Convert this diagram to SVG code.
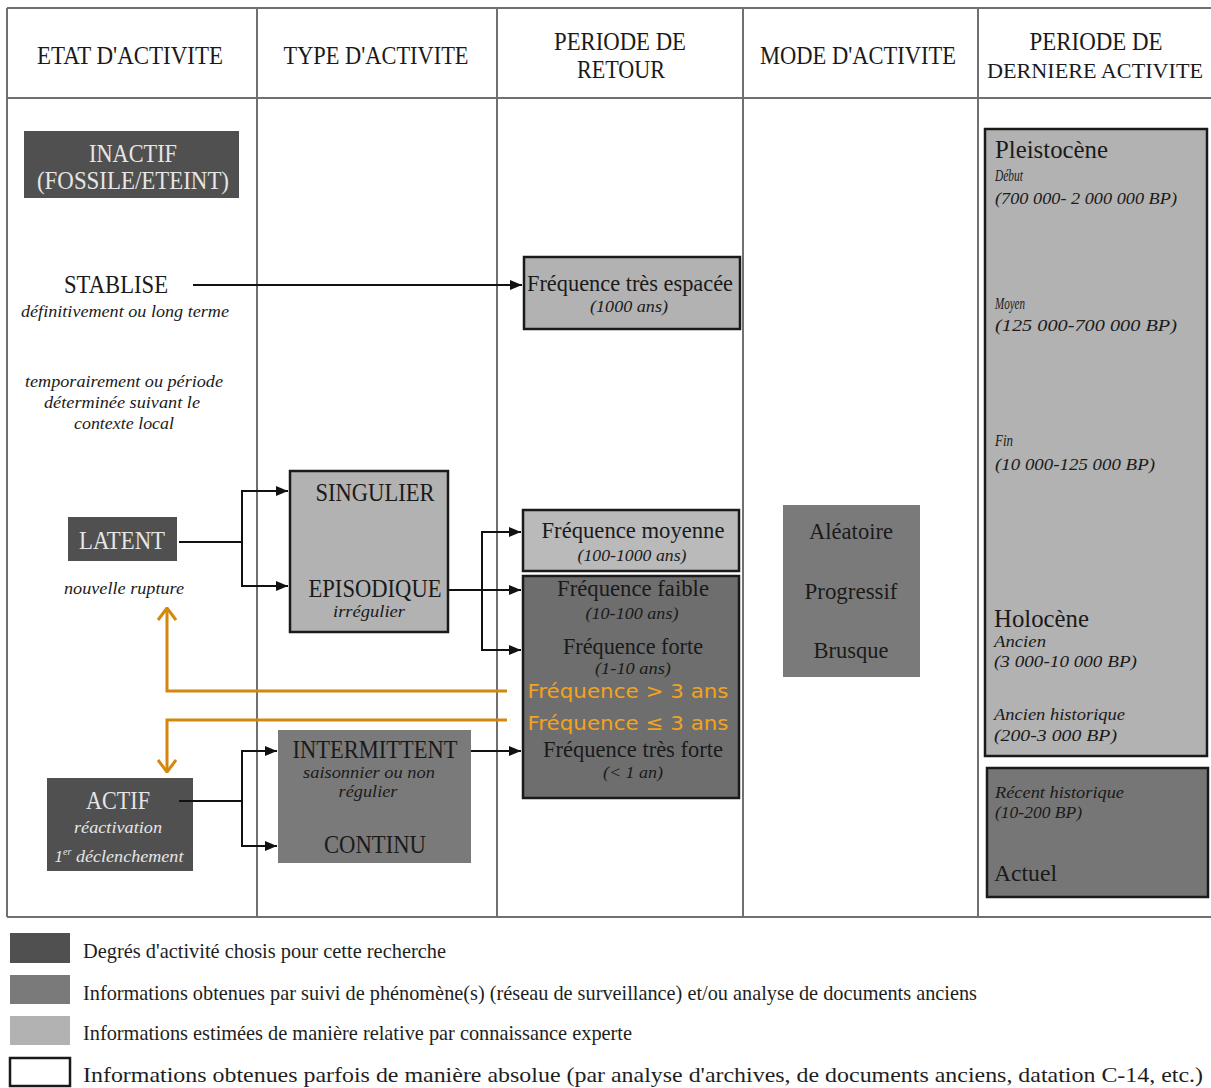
<svg xmlns="http://www.w3.org/2000/svg" width="1211" height="1088" viewBox="0 0 1211 1088">
<style>
.grid{stroke:#707070;stroke-width:2;fill:none}
.t{font-family:"Liberation Serif",serif;fill:#1a1a1a;text-anchor:middle}
.l{text-anchor:start}
.hd{font-size:25px}
.big{font-size:26px}
.md{font-size:24px}
.it{font-style:italic;font-size:17px}
.w{fill:#e6e6e6}
.dark{fill:#505050}
.mid{fill:#7a7a7a}
.light{fill:#b2b2b2}
.lighter{fill:#bababa}
.bd{stroke:#1a1a1a;stroke-width:2.5}
.con{stroke:#111;stroke-width:2;fill:none}
.or{stroke:#d4870d;stroke-width:3;fill:none}
.ot{font-family:"DejaVu Sans","Open Sans",sans-serif;font-size:20px;fill:#f4a31c;text-anchor:middle}
.lg{font-family:"Liberation Serif",serif;font-size:21px;fill:#1e1e1e}
</style>
<defs>
<marker id="arr" viewBox="0 0 12 10" refX="12" refY="5" markerWidth="12" markerHeight="10" markerUnits="userSpaceOnUse" orient="auto">
<path d="M0,0 L12,5 L0,10 z" fill="#111"/>
</marker>
<marker id="chev" viewBox="0 0 14 20" refX="13" refY="10" markerWidth="14" markerHeight="20" markerUnits="userSpaceOnUse" orient="auto">
<path d="M1,1 L13,10 L1,19" fill="none" stroke="#d4870d" stroke-width="3"/>
</marker>
</defs>

<g id="table">
<path class="grid" d="M7,8 H1211 M7,98 H1211 M7,917 H1211 M7,8 V917 M257,8 V917 M497,8 V917 M743,8 V917 M978,8 V917"/>
<text class="t hd" x="130" y="64" textLength="186" lengthAdjust="spacingAndGlyphs">ETAT D'ACTIVITE</text>
<text class="t hd" x="376" y="64" textLength="185" lengthAdjust="spacingAndGlyphs">TYPE D'ACTIVITE</text>
<text class="t hd" x="620" y="50" textLength="132" lengthAdjust="spacingAndGlyphs">PERIODE DE</text>
<text class="t hd" x="621" y="78" textLength="88" lengthAdjust="spacingAndGlyphs">RETOUR</text>
<text class="t hd" x="858" y="64" textLength="196" lengthAdjust="spacingAndGlyphs">MODE D'ACTIVITE</text>
<text class="t hd" x="1096" y="50" textLength="133" lengthAdjust="spacingAndGlyphs">PERIODE DE</text>
<text class="t" x="1095" y="78" font-size="21" textLength="216" lengthAdjust="spacingAndGlyphs">DERNIERE ACTIVITE</text>
</g>

<g id="inactif">
<rect class="dark" x="24" y="131" width="215" height="67"/>
<text class="t big w" x="133" y="162" textLength="88" lengthAdjust="spacingAndGlyphs">INACTIF</text>
<text class="t big w" x="133" y="189" textLength="192" lengthAdjust="spacingAndGlyphs">(FOSSILE/ETEINT)</text>
</g>

<g id="stablise">
<text class="t big" x="116" y="293" textLength="104" lengthAdjust="spacingAndGlyphs">STABLISE</text>
<text class="t it" x="125" y="317" textLength="208" lengthAdjust="spacingAndGlyphs">définitivement ou long terme</text>
<text class="t it" x="124" y="387" textLength="198" lengthAdjust="spacingAndGlyphs">temporairement ou période</text>
<text class="t it" x="122" y="408" textLength="156" lengthAdjust="spacingAndGlyphs">déterminée suivant le</text>
<text class="t it" x="124" y="429" textLength="100" lengthAdjust="spacingAndGlyphs">contexte local</text>
</g>

<g id="latent">
<rect class="dark" x="68" y="517" width="109" height="44"/>
<text class="t big w" x="122" y="549" textLength="86" lengthAdjust="spacingAndGlyphs">LATENT</text>
<text class="t it" x="124" y="594" textLength="120" lengthAdjust="spacingAndGlyphs">nouvelle rupture</text>
</g>

<g id="actif">
<rect class="dark" x="47" y="778" width="146" height="93"/>
<text class="t big w" x="118" y="809" textLength="64" lengthAdjust="spacingAndGlyphs">ACTIF</text>
<text class="t it w" x="118" y="833" textLength="88" lengthAdjust="spacingAndGlyphs">réactivation</text>
<text class="t it w" x="119" y="862">1<tspan font-size="10" dy="-7">er</tspan><tspan dy="7" textLength="112" lengthAdjust="spacingAndGlyphs"> déclenchement</tspan></text>
</g>

<g id="singulier-episodique">
<rect class="light bd" x="290" y="471" width="158" height="161"/>
<text class="t big" x="375" y="501" textLength="119" lengthAdjust="spacingAndGlyphs">SINGULIER</text>
<text class="t big" x="375" y="597" textLength="133" lengthAdjust="spacingAndGlyphs">EPISODIQUE</text>
<text class="t it" x="369" y="617" textLength="72" lengthAdjust="spacingAndGlyphs">irrégulier</text>
</g>

<g id="intermittent-continu">
<rect class="mid" x="278" y="730" width="193" height="133"/>
<text class="t big" x="375" y="758" textLength="165" lengthAdjust="spacingAndGlyphs">INTERMITTENT</text>
<text class="t it" x="369" y="778" textLength="132" lengthAdjust="spacingAndGlyphs">saisonnier ou non</text>
<text class="t it" x="368" y="797" textLength="59" lengthAdjust="spacingAndGlyphs">régulier</text>
<text class="t big" x="375" y="853" textLength="102" lengthAdjust="spacingAndGlyphs">CONTINU</text>
</g>

<g id="freq-espacee">
<rect class="light bd" x="524" y="257" width="216" height="72"/>
<text class="t md" x="630" y="291" textLength="206" lengthAdjust="spacingAndGlyphs">Fréquence très espacée</text>
<text class="t it" x="629" y="312" textLength="78" lengthAdjust="spacingAndGlyphs">(1000 ans)</text>
</g>

<g id="freq-moyenne">
<rect class="lighter bd" x="523" y="510" width="216" height="61"/>
<text class="t md" x="633" y="538" textLength="183" lengthAdjust="spacingAndGlyphs">Fréquence moyenne</text>
<text class="t it" x="632" y="561" textLength="109" lengthAdjust="spacingAndGlyphs">(100-1000 ans)</text>
</g>

<g id="freq-faible-forte">
<rect x="523" y="576" width="216" height="222" fill="#6e6e6e" class="bd"/>
<text class="t md" x="633" y="596" textLength="152" lengthAdjust="spacingAndGlyphs">Fréquence faible</text>
<text class="t it" x="632" y="619" textLength="93" lengthAdjust="spacingAndGlyphs">(10-100 ans)</text>
<text class="t md" x="633" y="654" textLength="140" lengthAdjust="spacingAndGlyphs">Fréquence forte</text>
<text class="t it" x="633" y="674" textLength="76" lengthAdjust="spacingAndGlyphs">(1-10 ans)</text>
<text class="ot" x="628" y="698" textLength="201" lengthAdjust="spacingAndGlyphs">Fréquence &gt; 3 ans</text>
<text class="ot" x="628" y="730" textLength="201" lengthAdjust="spacingAndGlyphs">Fréquence ≤ 3 ans</text>
<text class="t md" x="633" y="757" textLength="180" lengthAdjust="spacingAndGlyphs">Fréquence très forte</text>
<text class="t it" x="633" y="778" textLength="60" lengthAdjust="spacingAndGlyphs">(&lt; 1 an)</text>
</g>

<g id="mode">
<rect class="mid" x="783" y="505" width="137" height="172"/>
<text class="t md" x="851" y="539" textLength="84" lengthAdjust="spacingAndGlyphs">Aléatoire</text>
<text class="t md" x="851" y="599" textLength="93" lengthAdjust="spacingAndGlyphs">Progressif</text>
<text class="t md" x="851" y="658" font-size="21" textLength="75" lengthAdjust="spacingAndGlyphs">Brusque</text>
</g>

<g id="pleistocene-holocene">
<rect class="light bd" x="985" y="129" width="222" height="627"/>
<text class="t l" x="995" y="158" font-size="26" textLength="113" lengthAdjust="spacingAndGlyphs">Pleistocène</text>
<text class="t l it" x="995" y="181" font-size="15" textLength="28" lengthAdjust="spacingAndGlyphs">Début</text>
<text class="t l it" x="995" y="204" textLength="182" lengthAdjust="spacingAndGlyphs">(700 000- 2 000 000 BP)</text>
<text class="t l it" x="995" y="309" textLength="30" lengthAdjust="spacingAndGlyphs">Moyen</text>
<text class="t l it" x="995" y="331" textLength="182" lengthAdjust="spacingAndGlyphs">(125 000-700 000 BP)</text>
<text class="t l it" x="995" y="446" textLength="18" lengthAdjust="spacingAndGlyphs">Fin</text>
<text class="t l it" x="995" y="470" textLength="160" lengthAdjust="spacingAndGlyphs">(10 000-125 000 BP)</text>
<text class="t l" x="994" y="627" font-size="26" textLength="95" lengthAdjust="spacingAndGlyphs">Holocène</text>
<text class="t l it" x="994" y="647" textLength="52" lengthAdjust="spacingAndGlyphs">Ancien</text>
<text class="t l it" x="994" y="667" textLength="143" lengthAdjust="spacingAndGlyphs">(3 000-10 000 BP)</text>
<text class="t l it" x="994" y="720" textLength="131" lengthAdjust="spacingAndGlyphs">Ancien historique</text>
<text class="t l it" x="994" y="741" textLength="123" lengthAdjust="spacingAndGlyphs">(200-3 000 BP)</text>
</g>

<g id="recent-actuel">
<rect class="bd" fill="#767676" x="987" y="768" width="221" height="129"/>
<text class="t l it" x="995" y="798" textLength="129" lengthAdjust="spacingAndGlyphs">Récent historique</text>
<text class="t l it" x="995" y="818" textLength="87" lengthAdjust="spacingAndGlyphs">(10-200 BP)</text>
<text class="t l md" x="994" y="881" textLength="63" lengthAdjust="spacingAndGlyphs">Actuel</text>
</g>

<g id="connectors">
<path class="con" d="M193,285 H522" marker-end="url(#arr)"/>
<path class="con" d="M179,542 H242 V491 H288" marker-end="url(#arr)"/>
<path class="con" d="M242,542 V586 H288" marker-end="url(#arr)"/>
<path class="con" d="M448,590 H521" marker-end="url(#arr)"/>
<path class="con" d="M482,590 V532 H521" marker-end="url(#arr)"/>
<path class="con" d="M482,590 V650 H521" marker-end="url(#arr)"/>
<path class="con" d="M179,801 H242 V751 H277" marker-end="url(#arr)"/>
<path class="con" d="M242,801 V846 H277" marker-end="url(#arr)"/>
<path class="con" d="M471,751 H521" marker-end="url(#arr)"/>
<path class="or" d="M507,691 H167 V608" marker-end="url(#chev)"/>
<path class="or" d="M507,720 H167 V772" marker-end="url(#chev)"/>
</g>

<g id="legend">
<rect class="dark" x="10" y="933" width="60" height="30"/>
<text class="lg" x="83" y="958" textLength="363" lengthAdjust="spacingAndGlyphs">Degrés d'activité chosis pour cette recherche</text>
<rect class="mid" x="10" y="975" width="60" height="29"/>
<text class="lg" x="83" y="1000" textLength="894" lengthAdjust="spacingAndGlyphs">Informations obtenues par suivi de phénomène(s) (réseau de surveillance) et/ou analyse de documents anciens</text>
<rect class="light" x="10" y="1016" width="60" height="29"/>
<text class="lg" x="83" y="1040" textLength="549" lengthAdjust="spacingAndGlyphs">Informations estimées de manière relative par connaissance experte</text>
<rect x="10" y="1058" width="60" height="28" fill="#fff" stroke="#1a1a1a" stroke-width="2.5"/>
<text class="lg" x="83" y="1082" textLength="1120" lengthAdjust="spacingAndGlyphs">Informations obtenues parfois de manière absolue (par analyse d'archives, de documents anciens, datation C-14, etc.)</text>
</g>
</svg>
